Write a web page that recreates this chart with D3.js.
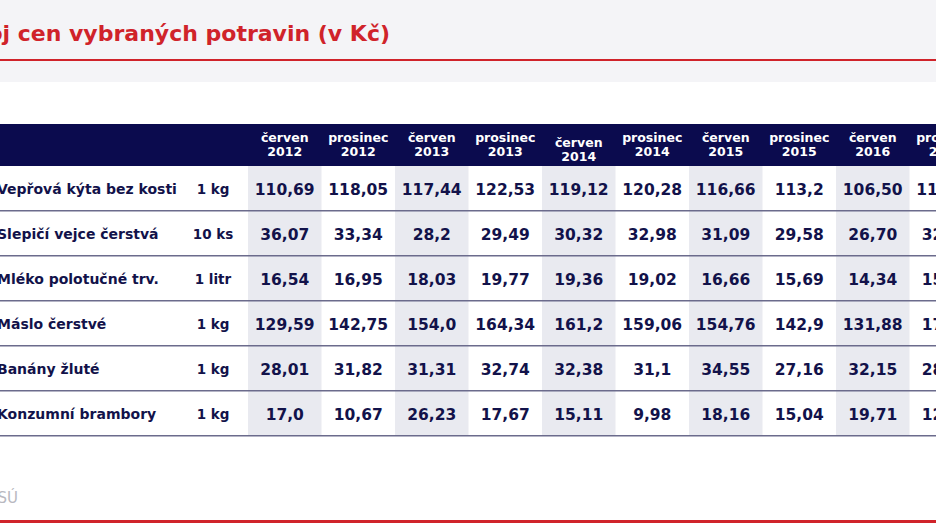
<!DOCTYPE html>
<html><head><meta charset="utf-8">
<script src="https://cdn.jsdelivr.net/npm/d3@7"></script>
<style>body{margin:0;background:#fff;overflow:hidden}svg{display:block}</style>
</head><body>
<script>
const title = "Vývoj cen vybraných potravin (v Kč)";
const periods = ["červen 2012","prosinec 2012","červen 2013","prosinec 2013","červen 2014","prosinec 2014","červen 2015","prosinec 2015","červen 2016","prosinec 2016"];
const products = ["Vepřová kýta bez kosti","Slepičí vejce čerstvá","Mléko polotučné trv.","Máslo čerstvé","Banány žluté","Konzumní brambory"];
const units = ["1 kg","10 ks","1 litr","1 kg","1 kg","1 kg"];
const prices = [
 ["110,69","118,05","117,44","122,53","119,12","120,28","116,66","113,2","106,50","112,38"],
 ["36,07","33,34","28,2","29,49","30,32","32,98","31,09","29,58","26,70","32,15"],
 ["16,54","16,95","18,03","19,77","19,36","19,02","16,66","15,69","14,34","15,45"],
 ["129,59","142,75","154,0","164,34","161,2","159,06","154,76","142,9","131,88","170,5"],
 ["28,01","31,82","31,31","32,74","32,38","31,1","34,55","27,16","32,15","28,50"],
 ["17,0","10,67","26,23","17,67","15,11","9,98","18,16","15,04","19,71","12,30"]
];
const source = "Zdroj: ČSÚ";

const W=936,H=526, navy="#12124a", red="#d0232a";
const svg=d3.select("body").append("svg").attr("width",W).attr("height",H);
const font="'DejaVu Sans', sans-serif";
svg.append("rect").attr("width",W).attr("height",82).attr("fill","#f4f4f7");
svg.append("text").attr("x",390).attr("y",41).attr("text-anchor","end").attr("fill",red).attr("font-family",font)
 .attr("font-weight","bold").attr("font-size",22).text(title);
svg.append("rect").attr("x",0).attr("y",59).attr("width",W).attr("height",2).attr("fill",red);

const x=d3.scaleBand().domain(periods).range([248,248+73.5*10]);
const y=d3.scaleBand().domain(products).range([166,436]);
const headTop=124;
svg.append("rect").attr("x",0).attr("y",headTop).attr("width",W).attr("height",y.range()[0]-headTop).attr("fill","#0b0b4e");
svg.selectAll(".sh").data(periods.filter((d,i)=>i%2==0)).join("rect")
 .attr("x",d=>x(d)).attr("y",y.range()[0]).attr("width",x.bandwidth()).attr("height",y.range()[1]-y.range()[0]).attr("fill","#e9eaf0");
periods.forEach(p=>{
 const [m,yr]=p.split(" ");
 const t=svg.append("text").attr("text-anchor","middle").attr("fill","#fff").attr("font-family",font).attr("font-weight","bold").attr("font-size",12.5);
 const cy=(p==="červen 2014")?142:137;
 t.append("tspan").attr("x",x(p)+x.bandwidth()/2).attr("y",cy+5).text(m);
 t.append("tspan").attr("x",x(p)+x.bandwidth()/2).attr("y",cy+19).text(yr);
});
products.forEach((p,i)=>{
 svg.append("rect").attr("x",0).attr("y",y(p)+y.bandwidth()-1).attr("width",W).attr("height",1.5).attr("fill","#6b6b8c");
 svg.append("text").attr("x",-3).attr("y",y(p)+y.bandwidth()/2+5).attr("fill",navy).attr("font-family",font).attr("font-weight","bold").attr("font-size",14).text(p);
 svg.append("text").attr("x",213).attr("y",y(p)+y.bandwidth()/2+5).attr("text-anchor","middle").attr("fill",navy).attr("font-family",font).attr("font-weight","bold").attr("font-size",13.5).text(units[i]);
 prices[i].forEach((v,j)=>{
  svg.append("text").attr("x",x(periods[j])+x.bandwidth()/2).attr("y",y(p)+y.bandwidth()/2+6).attr("text-anchor","middle").attr("fill",navy).attr("font-family",font).attr("font-weight","bold").attr("font-size",15.5).text(v);
 });
});
svg.append("text").attr("x",18).attr("y",503).attr("text-anchor","end").attr("fill","#b8b8c0").attr("font-family",font).attr("font-size",15).text(source);
svg.append("rect").attr("x",0).attr("y",520).attr("width",W).attr("height",3).attr("fill",red);
</script>
</body></html>
